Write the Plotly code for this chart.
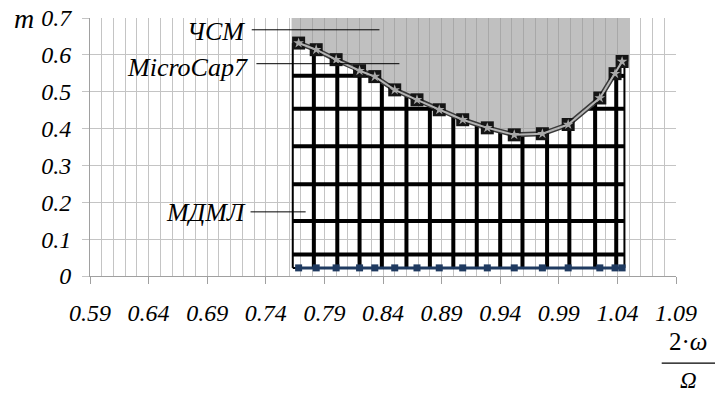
import numpy as np
import plotly.graph_objects as go

# ---- data ----
x_vals = [0.768, 0.783, 0.800, 0.820, 0.833, 0.850, 0.869, 0.888, 0.908, 0.929,
          0.952, 0.976, 0.998, 1.025, 1.038, 1.044]
m_microcap = [0.632, 0.614, 0.587, 0.557, 0.541, 0.505, 0.478, 0.451, 0.424, 0.402,
              0.383, 0.386, 0.411, 0.483, 0.549, 0.582]
m_mdml = [0.022, 0.022, 0.022, 0.022, 0.022, 0.022, 0.022, 0.022, 0.022, 0.022,
          0.022, 0.022, 0.022, 0.022, 0.022, 0.022]
# ЧСМ shaded region extents
csm_x = [0.762, 1.050]
csm_top = 0.7
# МДМЛ hatched region
box_x = [0.763, 1.046]
hatch_x = [0.781, 0.801, 0.820, 0.839, 0.860, 0.880, 0.900, 0.920, 0.940, 0.959,
           0.980, 0.999, 1.021, 1.039]
hatch_y = [0.058, 0.149, 0.249, 0.352, 0.454, 0.543]

x_ticks = [0.59, 0.64, 0.69, 0.74, 0.79, 0.84, 0.89, 0.94, 0.99, 1.04, 1.09]
y_ticks = [0, 0.1, 0.2, 0.3, 0.4, 0.5, 0.6, 0.7]

FONT = "Liberation Serif, Times New Roman, serif"
fig = go.Figure()

# ЧСМ gray area above curve
poly_x = [csm_x[0]] + x_vals + [csm_x[1], csm_x[1], csm_x[0]]
poly_y = [m_microcap[0]] + m_microcap + [m_microcap[-1], csm_top, csm_top]
fig.add_trace(go.Scatter(x=poly_x, y=poly_y, mode="lines", fill="toself",
                         fillcolor="rgba(150,150,150,0.6)", line=dict(width=0),
                         hoverinfo="skip", showlegend=False))

def curve(x):
    return np.interp(x, x_vals, m_microcap)

base = m_mdml[0]
# vertical hatch lines
vx, vy = [], []
for xv in hatch_x:
    vx += [xv, xv, None]
    vy += [base, float(curve(xv)), None]
fig.add_trace(go.Scatter(x=vx, y=vy, mode="lines", line=dict(color="black", width=4),
                         hoverinfo="skip", showlegend=False))
# horizontal hatch lines clipped under the curve
grid = np.linspace(box_x[0], box_x[1], 3000)
hx, hy = [], []
for yv in hatch_y:
    inside = curve(grid) >= yv
    start = None
    for i, flag in enumerate(inside):
        if flag and start is None:
            start = i
        if (not flag or i == len(inside) - 1) and start is not None:
            end = i if flag else i - 1
            hx += [float(grid[start]), float(grid[end]), None]
            hy += [yv, yv, None]
            start = None
fig.add_trace(go.Scatter(x=hx, y=hy, mode="lines", line=dict(color="black", width=4),
                         hoverinfo="skip", showlegend=False))
# box edges
ex = [box_x[0], box_x[0], None, box_x[1], box_x[1], None, box_x[0], box_x[1]]
ey = [base, float(curve(box_x[0])), None, base, float(curve(box_x[1])), None, base, base]
fig.add_trace(go.Scatter(x=ex, y=ey, mode="lines", line=dict(color="black", width=2),
                         hoverinfo="skip", showlegend=False))

# МДМЛ line
fig.add_trace(go.Scatter(x=x_vals, y=m_mdml, mode="lines+markers",
                         line=dict(color="#1f3a60", width=3),
                         marker=dict(symbol="square", size=7, color="#1f3a60"),
                         showlegend=False))
# MicroCap7 curve
fig.add_trace(go.Scatter(x=x_vals, y=m_microcap, mode="lines+markers",
                         line=dict(color="#3a3a3a", width=5),
                         marker=dict(symbol="square", size=13, color="#151515"),
                         showlegend=False))
fig.add_trace(go.Scatter(x=x_vals, y=m_microcap, mode="lines+markers",
                         line=dict(color="#b4b4b4", width=2),
                         marker=dict(symbol="star", size=8, color="#a8a8a8"),
                         showlegend=False))

# labels with leader lines
labels = [("ЧСМ", 0.7238, 0.663, 0.728, 0.837, 0.668),
          ("MicroCap7", 0.7264, 0.565, 0.732, 0.854, 0.576),
          ("МДМЛ", 0.7247, 0.173, 0.727, 0.774, 0.174)]
for txt, tx, ty, l0, l1, ly in labels:
    fig.add_annotation(x=tx, y=ty, xref="x", yref="y", text=f"<i>{txt}</i>",
                       showarrow=False, xanchor="right", yanchor="middle",
                       font=dict(family=FONT, size=26, color="black"))
    fig.add_shape(type="line", xref="x", yref="y", x0=l0, x1=l1, y0=ly, y1=ly,
                  line=dict(color="black", width=1))

# axis titles
fig.add_annotation(x=-0.112, y=1.0, xref="paper", yref="paper", text="<i>m</i>",
                   showarrow=False, xanchor="center", yanchor="middle",
                   font=dict(family=FONT, size=28, color="black"))
fig.add_annotation(x=1.0205, y=-0.253, xref="paper", yref="paper", text="2·<i>ω</i>",
                   showarrow=False, xanchor="center", yanchor="middle",
                   font=dict(family=FONT, size=25, color="black"))
fig.add_shape(type="line", xref="paper", yref="paper", x0=0.9756, x1=1.0666,
              y0=-0.338, y1=-0.338, line=dict(color="black", width=1.2))
fig.add_annotation(x=1.0205, y=-0.405, xref="paper", yref="paper", text="<i>Ω</i>",
                   showarrow=False, xanchor="center", yanchor="middle",
                   font=dict(family=FONT, size=23, color="black"))

fig.update_layout(
    width=716, height=394,
    margin=dict(l=90, r=40, t=18, b=118, autoexpand=False),
    paper_bgcolor="white", plot_bgcolor="white",
    font=dict(family=FONT, size=24, color="black"),
    xaxis=dict(range=[0.59, 1.09], tickvals=x_ticks,
               ticktext=[f"<i>{v:.2f}</i>" for v in x_ticks],
               showgrid=True, gridcolor="#c4c4c4", gridwidth=1,
               minor=dict(dtick=0.01, tick0=0.59, showgrid=True, gridcolor="#c4c4c4", gridwidth=1),
               ticks="outside", ticklen=7, tickcolor="#a0a0a0",
               showline=True, linecolor="#a0a0a0", linewidth=1,
               zeroline=False, ticklabelstandoff=8, automargin=False),
    yaxis=dict(range=[0, 0.7], tickvals=y_ticks,
               ticktext=[f"<i>{v:g}</i>" for v in y_ticks],
               showgrid=True, gridcolor="#c4c4c4", gridwidth=1,
               ticks="outside", ticklen=7, tickcolor="#c4c4c4",
               showline=True, linecolor="#a0a0a0", linewidth=1,
               zeroline=False, ticklabelstandoff=6, automargin=False),
)
fig.write_html("out.html", config={"displayModeBar": False},
               post_script="document.body.style.margin='0px';")
